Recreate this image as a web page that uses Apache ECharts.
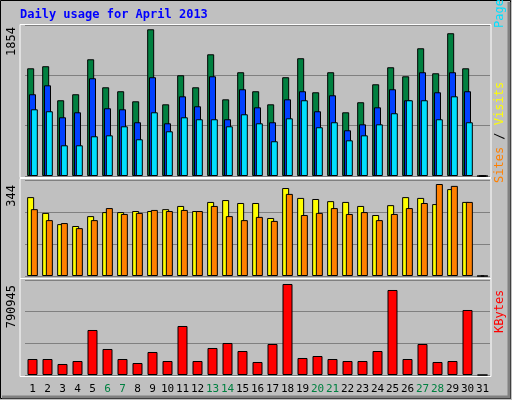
<!DOCTYPE html>
<html>
<head>
<meta charset="utf-8">
<script src="https://cdn.jsdelivr.net/npm/echarts@6/dist/echarts.min.js"></script>
<style>html,body{margin:0;padding:0;background:#c0c0c0}#main{width:512px;height:400px}</style>
</head>
<body>
<div id="main"></div>
<script>
var days = [];
for (var i = 1; i <= 31; i++) days.push(String(i));
var weekends = ['6', '7', '13', '14', '20', '21', '27', '28'];
// 每日数据 (第31天无数据)
var hits = [1361,1387,957,1033,1475,1121,1071,944,1854,906,1273,1121,1538,969,1311,1071,906,1248,1488,1058,1311,805,932,1159,1374,1260,1614,1298,1804,1361,0];
var files = [1033,1146,742,805,1235,856,843,679,1248,666,1007,881,1260,717,1096,868,679,969,1071,818,1020,578,653,868,1096,957,1311,1058,1311,1071,0];
var pages = [843,818,388,388,502,514,628,464,805,565,742,717,717,628,780,666,439,729,957,616,679,451,514,653,793,957,957,717,1007,679,0];
var sites = [295,236,194,187,224,239,239,243,243,250,262,243,277,284,273,273,217,329,292,288,280,277,262,228,265,295,292,269,325,277,0];
var visits = [250,209,198,179,209,254,232,236,247,243,247,243,262,224,209,221,206,307,228,236,254,232,239,209,232,254,273,344,337,277,0];
var kbytes = [139065,139065,95608,121682,391122,225982,139065,104299,199907,121682,425888,121682,234673,278131,208598,112991,269440,790945,147757,165140,139065,121682,121682,208598,738786,139065,269440,112991,121682,564954,0];

var chartDom = document.getElementById('main');
var myChart = echarts.init(chartDom);
var font = 'DejaVu Sans Mono';
var bar = {type: 'bar', barWidth: 7, itemStyle: {borderColor: '#000', borderWidth: 1}};
function yax(idx, max) {
    return {gridIndex: idx, min: 0, max: max, interval: max / 3, axisLabel: {show: false},
        axisLine: {show: false}, axisTick: {show: false},
        splitLine: {lineStyle: {color: '#808080', width: 1}}};
}
function xax(idx, showLabel) {
    return {gridIndex: idx, type: 'category', data: days, axisLine: {show: false}, axisTick: {show: false},
        axisLabel: {show: showLabel, fontFamily: font, fontSize: 11, margin: 9, interval: 0,
            color: function (v) { return weekends.indexOf(v) >= 0 ? '#008040' : '#000'; }}};
}
function frame(y, h) {
    return {type: 'rect', shape: {x: 20, y: y, width: 471, height: h}, z: -1,
        style: {fill: 'none', stroke: '#fff', lineWidth: 1}};
}
function vtext(x, y, txt) {
    return {type: 'text', x: x, y: y, rotation: Math.PI / 2,
        style: {text: txt, font: '12px ' + font, fill: '#000', align: 'right', verticalAlign: 'middle'}};
}
function sideLabel(y, parts) {
    var rich = {}, s = [];
    parts.forEach(function (p, i) {
        rich['p' + i] = {fill: p[1], font: '12px ' + font};
        s.push('{p' + i + '|' + p[0] + '}');
    });
    return {type: 'text', x: 500, y: y, rotation: Math.PI / 2,
        style: {text: s.join(''), rich: rich, align: 'left', verticalAlign: 'middle'}};
}

var option = {
    backgroundColor: '#c0c0c0',
    animation: false,
    grid: [
        {left: 25, right: 22, top: 25, height: 151},
        {left: 25, right: 22, top: 180, height: 96},
        {left: 25, right: 22, top: 280, height: 95}
    ],
    xAxis: [xax(0, false), xax(1, false), xax(2, true)],
    yAxis: [yax(0, 1908), yax(1, 359), yax(2, 825700)],
    graphic: [
        {type: 'rect', shape: {x: 0.5, y: 0.5, width: 510, height: 398}, z: -2,
            style: {fill: 'none', stroke: '#000', lineWidth: 1}},
        {type: 'polyline', shape: {points: [[509, 2], [509, 397], [2, 397]]}, z: -2,
            style: {stroke: '#808080', lineWidth: 3, fill: 'none'}},
        {type: 'text', x: 20, y: 9, style: {text: 'Daily usage for April 2013', font: 'bold 12px ' + font, fill: '#0000ff'}},
        frame(24.5, 153), frame(178.5, 100), frame(278.5, 98),
        vtext(12, 27, '1854'), vtext(12, 185, '344'), vtext(12, 285, '790945'),
        sideLabel(28, [['Pages', '#00e0ff'], [' / ', '#000'], ['Files', '#0040ff'], [' / ', '#000'], ['Hits', '#008040']]),
        sideLabel(183, [['Sites', '#ff8000'], [' / ', '#000'], ['Visits', '#ffff00']]),
        sideLabel(333, [['KBytes', '#ff0000']])
    ],
    series: [
        Object.assign({}, bar, {name: 'Hits', xAxisIndex: 0, yAxisIndex: 0, data: hits, barGap: '-74%', itemStyle: {color: '#008040', borderColor: '#000', borderWidth: 1}}),
        Object.assign({}, bar, {name: 'Files', xAxisIndex: 0, yAxisIndex: 0, data: files, barGap: '-74%', itemStyle: {color: '#0040ff', borderColor: '#000', borderWidth: 1}}),
        Object.assign({}, bar, {name: 'Pages', xAxisIndex: 0, yAxisIndex: 0, data: pages, barGap: '-74%', itemStyle: {color: '#00e0ff', borderColor: '#000', borderWidth: 1}}),
        Object.assign({}, bar, {name: 'Sites', xAxisIndex: 1, yAxisIndex: 1, data: sites, barGap: '-47%', itemStyle: {color: '#ffff00', borderColor: '#000', borderWidth: 1}}),
        Object.assign({}, bar, {name: 'Visits', xAxisIndex: 1, yAxisIndex: 1, data: visits, barGap: '-47%', itemStyle: {color: '#ff8000', borderColor: '#000', borderWidth: 1}}),
        Object.assign({}, bar, {name: 'KBytes', xAxisIndex: 2, yAxisIndex: 2, data: kbytes, barWidth: 10, itemStyle: {color: '#ff0000', borderColor: '#000', borderWidth: 1}})
    ]
};

option && myChart.setOption(option);
</script>
</body>
</html>
